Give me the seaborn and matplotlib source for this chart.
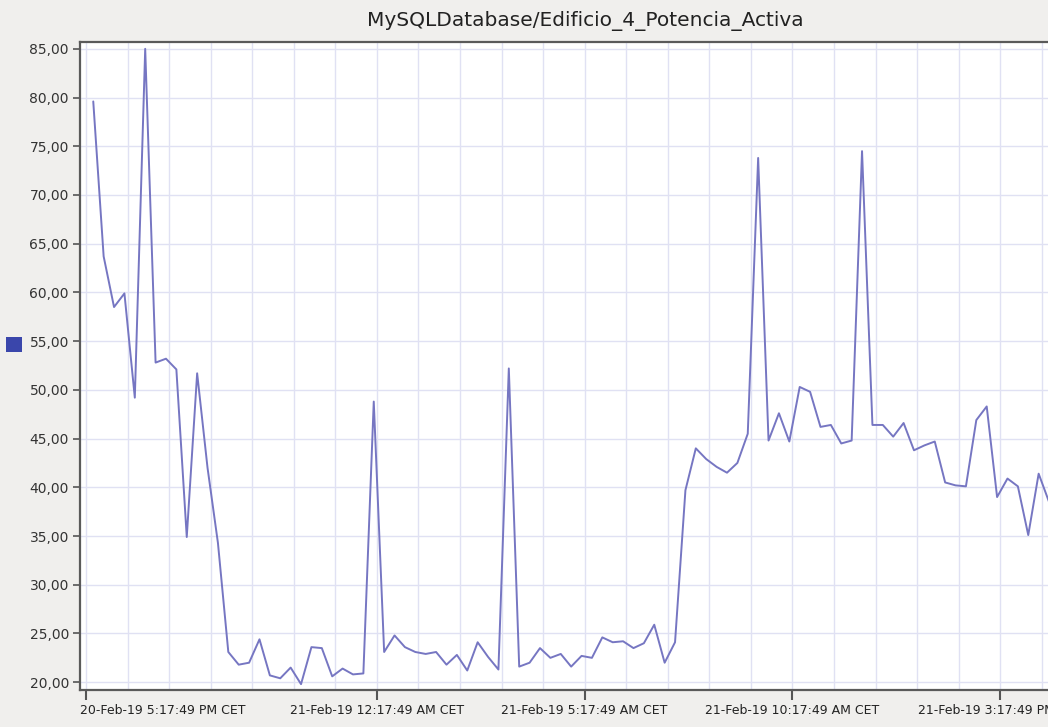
import numpy as np
import pandas as pd
import matplotlib
matplotlib.use("Agg")
import matplotlib.pyplot as plt
import matplotlib.dates as mdates
import matplotlib.transforms as mtransforms
from matplotlib.ticker import FixedLocator, FuncFormatter
from matplotlib.patches import Rectangle
import seaborn as sns

title = "MySQLDatabase/Edificio_4_Potencia_Activa"
start_time = "2019-02-20 17:28:19"
step_minutes = 15
values = [79.6, 63.7, 58.5, 59.9, 49.2, 85.0, 52.8, 53.2, 52.1, 34.9,
          51.7, 42.0, 34.3, 23.1, 21.8, 22.0, 24.4, 20.7, 20.4, 21.5,
          19.8, 23.6, 23.5, 20.6, 21.4, 20.8, 20.9, 48.8, 23.1, 24.8,
          23.6, 23.1, 22.9, 23.1, 21.8, 22.8, 21.2, 24.1, 22.6, 21.3,
          52.2, 21.6, 22.0, 23.5, 22.5, 22.9, 21.6, 22.7, 22.5, 24.6,
          24.1, 24.2, 23.5, 24.0, 25.9, 22.0, 24.1, 39.7, 44.0, 42.9,
          42.1, 41.5, 42.5, 45.5, 73.8, 44.8, 47.6, 44.7, 50.3, 49.8,
          46.2, 46.4, 44.5, 44.8, 74.5, 46.4, 46.4, 45.2, 46.6, 43.8,
          44.3, 44.7, 40.5, 40.2, 40.1, 46.9, 48.3, 39.0, 40.9, 40.1,
          35.1, 41.4, 38.5]
tick_times = ["2019-02-20 17:17:49", "2019-02-21 00:17:49", "2019-02-21 05:17:49",
              "2019-02-21 10:17:49", "2019-02-21 15:17:49"]
tick_labels = ["20-Feb-19 5:17:49 PM CET", "21-Feb-19 12:17:49 AM CET",
               "21-Feb-19 5:17:49 AM CET", "21-Feb-19 10:17:49 AM CET",
               "21-Feb-19 3:17:49 PM CET"]
y_ticks = [20, 25, 30, 35, 40, 45, 50, 55, 60, 65, 70, 75, 80, 85]

times = pd.date_range(start_time, periods=len(values), freq=f"{step_minutes}min")
df = pd.DataFrame({"time": times, "value": values})

sns.set_style("white")
plt.rcParams['font.family'] = ['DejaVu Sans']

fig = plt.figure(figsize=(10.48, 7.27), dpi=100, facecolor="#f0efed")
ax = fig.add_axes([80/1048, 37/727, 1 - 80/1048, (690-42)/727])
ax.set_facecolor("white")

sns.lineplot(data=df, x="time", y="value", ax=ax, color="#7676c2", linewidth=1.4, zorder=3)

t0 = pd.Timestamp(tick_times[0])
xmin = t0 - pd.Timedelta(hours=0.144)
xmax = t0 + pd.Timedelta(hours=23.15)
ax.set_xlim(mdates.date2num(xmin), mdates.date2num(xmax))
ax.set_ylim(19.2, 85.7)

major = [mdates.date2num(pd.Timestamp(t)) for t in tick_times]
ax.xaxis.set_major_locator(FixedLocator(major))
ax.set_xticklabels(tick_labels)
minor = [mdates.date2num(t0 + pd.Timedelta(hours=h)) for h in range(0, 24)]
ax.xaxis.set_minor_locator(FixedLocator(minor))

ax.yaxis.set_major_locator(FixedLocator(y_ticks))
ax.yaxis.set_major_formatter(FuncFormatter(lambda v, p: f"{v:.2f}".replace(".", ",")))

ax.grid(which="minor", axis="x", color="#e0e1f3", linewidth=1.0, zorder=0)
ax.grid(which="major", axis="x", color="#e0e1f3", linewidth=1.0, zorder=0)
ax.grid(which="major", axis="y", color="#e0e1f3", linewidth=1.0, zorder=0)

ax.tick_params(axis="x", which="major", direction="out", length=7, width=1.5,
               color="#555555", labelsize=9, labelcolor="#222222", pad=3, bottom=True)
ax.tick_params(axis="x", which="minor", length=0)
ax.tick_params(axis="y", which="major", direction="out", length=5, width=1.2,
               color="#555555", labelsize=10, labelcolor="#333333", pad=3, left=True)

# first label shifted so it starts at the axis edge (as in the reference)
first = ax.get_xticklabels()[0]
first.set_ha("left")
first.set_transform(first.get_transform() + mtransforms.ScaledTranslation(-6/100, 0, fig.dpi_scale_trans))

ax.set_xlabel("")
ax.set_ylabel("")

for s in ["left", "bottom", "top"]:
    ax.spines[s].set_color("#5a5a5a")
    ax.spines[s].set_linewidth(1.6)
ax.spines["right"].set_visible(False)

fig.text(585/1048, 1 - 21/727, title, ha="center", va="center",
         fontsize=14.5, color="#222222")

fig.patches.append(Rectangle((6/1048, 1 - 352/727), 16/1048, 15/727,
                             transform=fig.transFigure, facecolor="#3a46ab",
                             edgecolor="none"))

fig.savefig("out.png", dpi=100, facecolor=fig.get_facecolor())
